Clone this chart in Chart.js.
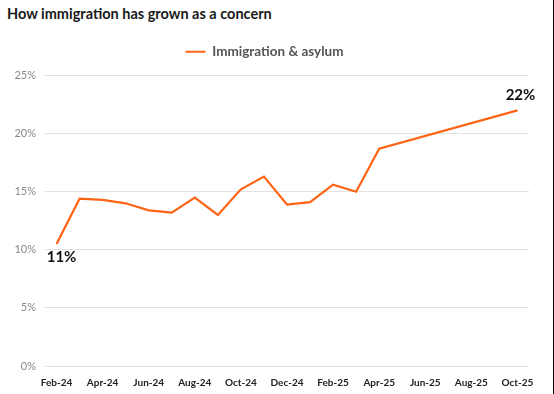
<!DOCTYPE html>
<html>
<head>
<meta charset="utf-8">
<script src="https://cdn.jsdelivr.net/npm/chart.js@4"></script>
<style>
    html, body { margin: 0; padding: 0; background: #fff; }
    #wrap { position: relative; width: 553px; height: 394px; border-right: 1px solid #000; }
    #title { position: absolute; left: 7px; top: 5px; font: bold 14.5px Lato, sans-serif; color: #1a1a1a; }
    #box { position: absolute; left: 0; top: 34px; width: 553px; height: 360px; }
</style>
</head>
<body>
<div id="wrap">
    <div id="title">How immigration has grown as a concern</div>
    <div id="box"><canvas id="myChart"></canvas></div>
</div>
<script>
const months = ['Feb-24', 'Mar-24', 'Apr-24', 'May-24', 'Jun-24', 'Jul-24', 'Aug-24', 'Sep-24', 'Oct-24', 'Nov-24',
    'Dec-24', 'Jan-25', 'Feb-25', 'Mar-25', 'Apr-25', 'May-25', 'Jun-25', 'Jul-25', 'Aug-25', 'Sep-25', 'Oct-25'];
const immigration = [10.5, 14.4, 14.3, 14.0, 13.4, 13.2, 14.5, 13.0, 15.2, 16.3,
    13.9, 14.1, 15.6, 15.0, 18.7, null, null, null, null, null, 22.0];
const endLabels = ['11%', '22%'];
const yTicks = [0, 5, 10, 15, 20, 25];

// labels on the first and last point
const endLabelPlugin = {
    id: 'endLabels',
    afterDatasetsDraw(chart) {
        const ctx = chart.ctx;
        const pts = chart.getDatasetMeta(0).data;
        const first = pts[0];
        const last = pts[pts.length - 1];
        ctx.save();
        ctx.font = 'bold 15px Lato, sans-serif';
        ctx.fillStyle = '#111';
        ctx.textAlign = 'center';
        ctx.textBaseline = 'top';
        ctx.fillText(endLabels[0], first.x + 5, first.y + 6);
        ctx.textBaseline = 'bottom';
        ctx.fillText(endLabels[1], last.x + 3, last.y - 8);
        ctx.restore();
    }
};

// a bit more room under the legend
const legendGap = {
    id: 'legendGap',
    beforeInit(chart) {
        const fit = chart.legend.fit;
        chart.legend.fit = function () {
            fit.bind(chart.legend)();
            this.height += 7;
        };
    }
};

new Chart(document.getElementById('myChart').getContext('2d'), {
    type: 'line',
    data: {
        labels: months,
        datasets: [{
            label: 'Immigration & asylum',
            data: immigration,
            borderColor: '#ff6414',
            backgroundColor: '#ff6414',
            borderWidth: 2.2,
            pointRadius: 0,
            tension: 0,
            spanGaps: true
        }]
    },
    options: {
        responsive: true,
        maintainAspectRatio: false,
        animation: false,
        layout: { padding: { left: 0, right: 24, top: 0, bottom: 2 } },
        plugins: {
            legend: {
                labels: {
                    boxWidth: 20,
                    boxHeight: 0,
                    color: '#555',
                    font: { family: 'Lato, sans-serif', size: 13.5, weight: 'bold' },
                    padding: 11
                }
            },
            tooltip: { enabled: false }
        },
        scales: {
            x: {
                offset: true,
                grid: { display: false },
                border: { display: false },
                ticks: {
                    autoSkip: false,
                    maxRotation: 0,
                    color: '#222',
                    font: { family: 'Lato, sans-serif', size: 10, weight: 'bold' },
                    callback: (v, i) => i % 2 === 0 ? months[i] : ''
                }
            },
            y: {
                min: 0,
                max: 25,
                afterBuildTicks: (axis) => { axis.ticks = yTicks.map(v => ({ value: v })); },
                afterFit: (axis) => { axis.width = 45; },
                grid: { color: '#e2e2e2', lineWidth: 1, drawTicks: false },
                border: { display: false },
                ticks: {
                    color: '#888',
                    padding: 9,
                    font: { family: 'Lato, sans-serif', size: 11 },
                    callback: (v) => v + '%'
                }
            }
        }
    },
    plugins: [endLabelPlugin, legendGap]
});
</script>
</body>
</html>
